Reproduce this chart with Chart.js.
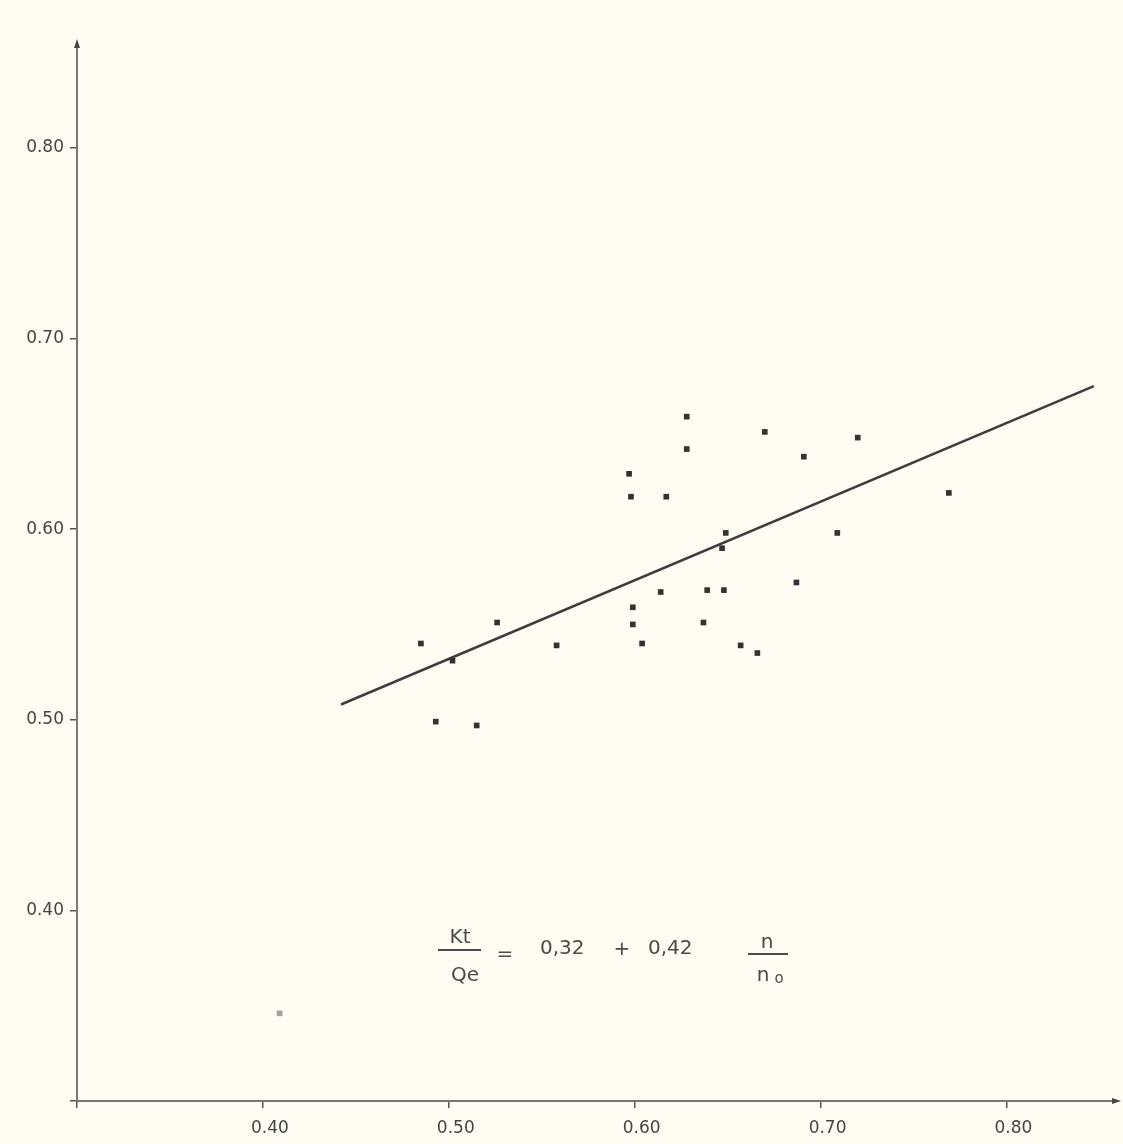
<!DOCTYPE html>
<html>
<head>
<meta charset="utf-8">
<script src="https://cdn.jsdelivr.net/npm/chart.js@4/dist/chart.umd.min.js"></script>
<style>
  html, body { margin: 0; padding: 0; background: #fffcf4; }
  canvas { display: block; }
</style>
</head>
<body>
<canvas id="c" width="1123" height="1144"></canvas>
<script>
// ---- data ----
const pointX = [0.485, 0.493, 0.502, 0.515, 0.526, 0.558, 0.597, 0.598, 0.599, 0.599,
                0.604, 0.614, 0.617, 0.628, 0.628, 0.637, 0.639, 0.648, 0.649, 0.647,
                0.657, 0.666, 0.670, 0.687, 0.691, 0.709, 0.720, 0.769];
const pointY = [0.540, 0.499, 0.531, 0.497, 0.551, 0.539, 0.629, 0.617, 0.559, 0.550,
                0.540, 0.567, 0.617, 0.659, 0.642, 0.551, 0.568, 0.568, 0.598, 0.590,
                0.539, 0.535, 0.651, 0.572, 0.638, 0.598, 0.648, 0.619];
const faintX = [0.409];
const faintY = [0.346];
const fitX = [0.442, 0.847];
const fitY = [0.508, 0.675];
const xTickValues = [0.30, 0.40, 0.50, 0.60, 0.70, 0.80];
const xTickLabels = ['', '0.40', '0.50', '0.60', '0.70', '0.80'];
const yTickValues = [0.30, 0.40, 0.50, 0.60, 0.70, 0.80];
const yTickLabels = ['', '0.40', '0.50', '0.60', '0.70', '0.80'];
const eqParts = ['Kt', 'Qe', '=', '0,32', '+', '0,42', 'n', 'n', 'o'];

const toPts = (xs, ys) => xs.map((x, i) => ({ x: x, y: ys[i] }));

const bgPlugin = {
  id: 'bg',
  beforeDraw(chart) {
    const ctx = chart.ctx;
    ctx.save();
    ctx.fillStyle = '#fffcf4';
    ctx.fillRect(0, 0, chart.width, chart.height);
    ctx.restore();
  }
};

const decoPlugin = {
  id: 'deco',
  afterDraw(chart) {
    const ctx = chart.ctx;
    const a = chart.chartArea;
    ctx.save();
    // arrowheads
    ctx.fillStyle = '#444';
    ctx.beginPath();
    ctx.moveTo(a.left, a.top - 4);
    ctx.lineTo(a.left - 3, a.top + 5);
    ctx.lineTo(a.left + 3, a.top + 5);
    ctx.closePath();
    ctx.fill();
    ctx.beginPath();
    ctx.moveTo(a.right + 3, a.bottom);
    ctx.lineTo(a.right - 6, a.bottom - 3);
    ctx.lineTo(a.right - 6, a.bottom + 3);
    ctx.closePath();
    ctx.fill();

    // equation
    ctx.fillStyle = '#4a4a4a';
    ctx.strokeStyle = '#4a4a4a';
    ctx.lineWidth = 2;
    ctx.textBaseline = 'alphabetic';
    ctx.font = '20px "DejaVu Sans"';
    ctx.textAlign = 'center';
    ctx.fillText(eqParts[0], 460, 943);
    ctx.beginPath(); ctx.moveTo(438, 950); ctx.lineTo(481, 950); ctx.stroke();
    ctx.fillText(eqParts[1], 465, 981);
    ctx.fillText(eqParts[2], 505, 960);
    ctx.textAlign = 'left';
    ctx.fillText(eqParts[3], 540, 954);
    ctx.textAlign = 'center';
    ctx.fillText(eqParts[4], 622, 955);
    ctx.textAlign = 'left';
    ctx.fillText(eqParts[5], 648, 954);
    ctx.textAlign = 'center';
    ctx.fillText(eqParts[6], 767, 948);
    ctx.beginPath(); ctx.moveTo(748, 954); ctx.lineTo(788, 954); ctx.stroke();
    ctx.fillText(eqParts[7], 763, 981);
    ctx.font = '15px "DejaVu Sans"';
    ctx.fillText(eqParts[8], 779, 983);
    ctx.restore();
  }
};

const tickFont = { family: '"DejaVu Sans"', size: 17 };

new Chart(document.getElementById('c'), {
  type: 'scatter',
  data: {
    datasets: [
      {
        data: toPts(pointX, pointY),
        pointStyle: 'rect',
        pointRadius: 4,
        backgroundColor: '#333',
        borderWidth: 0
      },
      {
        data: toPts(faintX, faintY),
        pointStyle: 'rect',
        pointRadius: 4,
        backgroundColor: '#a0a0a0',
        borderWidth: 0
      },
      {
        type: 'line',
        data: toPts(fitX, fitY),
        borderColor: '#3d3d3d',
        borderWidth: 2.5,
        pointRadius: 0,
        fill: false
      }
    ]
  },
  options: {
    responsive: false,
    animation: false,
    devicePixelRatio: 1,
    layout: { padding: { top: 43, right: 5, left: 0, bottom: 0 } },
    plugins: { legend: { display: false }, tooltip: { enabled: false } },
    scales: {
      x: {
        type: 'linear',
        min: 0.30,
        max: 0.86,
        border: { display: true, color: '#777', width: 2 },
        grid: { drawOnChartArea: false, drawTicks: true, tickLength: 7, color: '#555', lineWidth: 1.5 },
        ticks: {
          font: tickFont,
          color: '#444',
          padding: 10,
          labelOffset: 7,
          maxRotation: 0,
          autoSkip: false,
          callback: (v) => { const i = xTickValues.findIndex(t => Math.abs(t - v) < 1e-6); return i >= 0 ? xTickLabels[i] : ''; }
        },
        afterBuildTicks: (s) => { s.ticks = xTickValues.map(v => ({ value: v })); },
        afterFit: (s) => { s.height = 43; }
      },
      y: {
        type: 'linear',
        min: 0.30,
        max: 0.855,
        border: { display: true, color: '#777', width: 2 },
        grid: { drawOnChartArea: false, drawTicks: true, tickLength: 7, color: '#555', lineWidth: 1.5 },
        ticks: {
          font: tickFont,
          color: '#444',
          padding: 6,
          autoSkip: false,
          callback: (v) => { const i = yTickValues.findIndex(t => Math.abs(t - v) < 1e-6); return i >= 0 ? yTickLabels[i] : ''; }
        },
        afterBuildTicks: (s) => { s.ticks = yTickValues.map(v => ({ value: v })); },
        afterFit: (s) => { s.width = 77; }
      }
    }
  },
  plugins: [bgPlugin, decoPlugin]
});
</script>
</body>
</html>
